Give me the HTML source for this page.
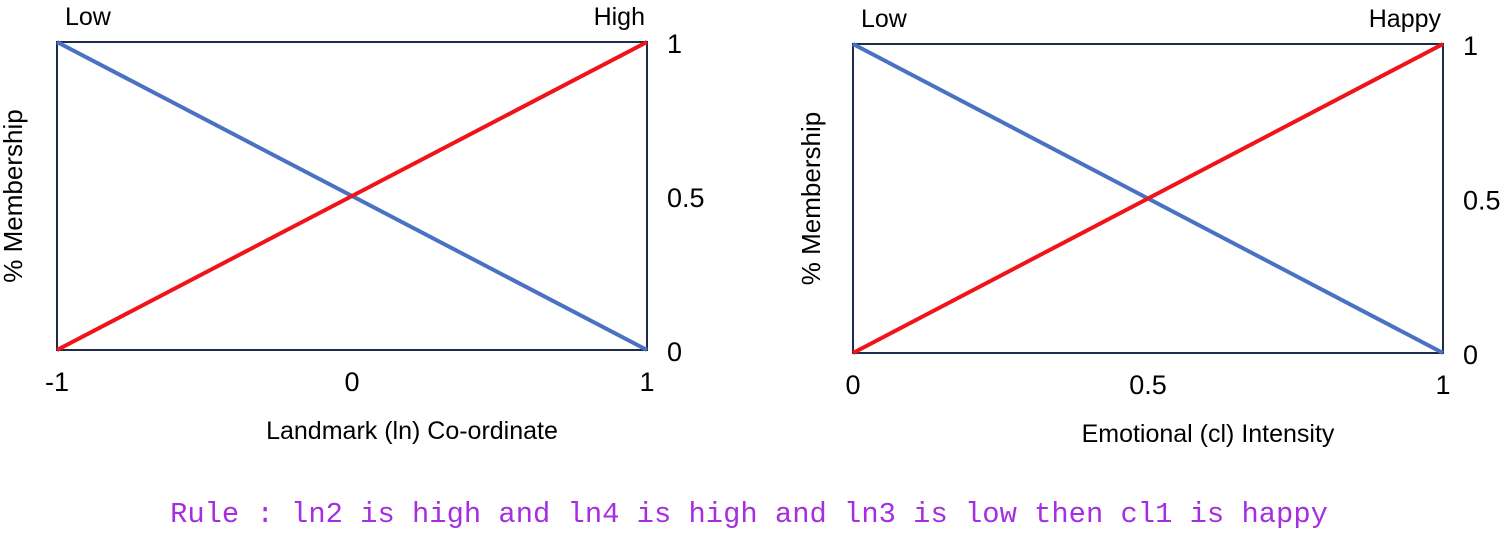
<!DOCTYPE html>
<html><head><meta charset="utf-8"><style>
body{margin:0;background:#fff;width:1500px;height:529px;overflow:hidden}
svg text{font-family:"Liberation Sans",sans-serif;fill:#000}
</style></head><body>
<svg width="1500" height="529">
<g id="c1"></g>
<g id="c2"></g>
<text x="749" y="522" text-anchor="middle" style="font-family:'Liberation Mono',monospace;font-size:28.8px;fill:#a52ee0">Rule : ln2 is high and ln4 is high and ln3 is low then cl1 is happy</text>
</svg>
<script>
const lowSeries=[1,0];
const highSeries=[0,1];
const xTicks1=["-1","0","1"];
const xTicks2=["0","0.5","1"];
const yTicks=[0,0.5,1];
const yTickLabels=["0","0.5","1"];
const NS="http://www.w3.org/2000/svg";
function mk(p,t,a,txt){const e=document.createElementNS(NS,t);for(const k in a)e.setAttribute(k,a[k]);if(txt!=null)e.textContent=txt;p.appendChild(e);return e;}
function chart(g,L,R,T,B,xt,xLab,lowLab,highLab,yLabX){
 const xs=v=>L+(R-L)*v, ys=v=>B-(B-T)*v;
 const box=mk(g,'rect',{x:L,y:T,width:R-L,height:B-T,fill:'none',stroke:'#1f2d4a','stroke-width':2});
 
 
 const lo=mk(g,'line',{x1:xs(0),y1:ys(lowSeries[0]),x2:xs(1),y2:ys(lowSeries[1]),stroke:'#4a72c2','stroke-width':4});
 
 
 const hi=mk(g,'line',{x1:xs(0),y1:ys(highSeries[0]),x2:xs(1),y2:ys(highSeries[1]),stroke:'#f0141a','stroke-width':4});
 
 
 xt.forEach((t,i)=>{const e=mk(g,'text',{x:xs(i/2),y:B+41,'text-anchor':'middle','font-size':27},t);
  
  });
 yTicks.forEach((v,i)=>{const e=mk(g,'text',{x:R+20,y:ys(v)+11,'font-size':27},yTickLabels[i]);
  
  });
 const xl=mk(g,'text',{x:(L+R)/2+60,y:B+89,'text-anchor':'middle','font-size':25},xLab);
 
 
 const yl=mk(g,'text',{x:0,y:0,'text-anchor':'middle','font-size':26,transform:`translate(${yLabX},${(T+B)/2}) rotate(-90)`},'% Membership');
 
 
 const a=mk(g,'text',{x:L+8,y:T-17,'font-size':25},lowLab);
 
 
 const b=mk(g,'text',{x:R-2,y:T-17,'text-anchor':'end','font-size':25},highLab);
 
 
}
chart(document.getElementById('c1'),57,647,42,350,xTicks1,'Landmark (ln) Co-ordinate','Low','High',22);
chart(document.getElementById('c2'),853,1443,44,353,xTicks2,'Emotional (cl) Intensity','Low','Happy',820);
</script>
</body></html>
